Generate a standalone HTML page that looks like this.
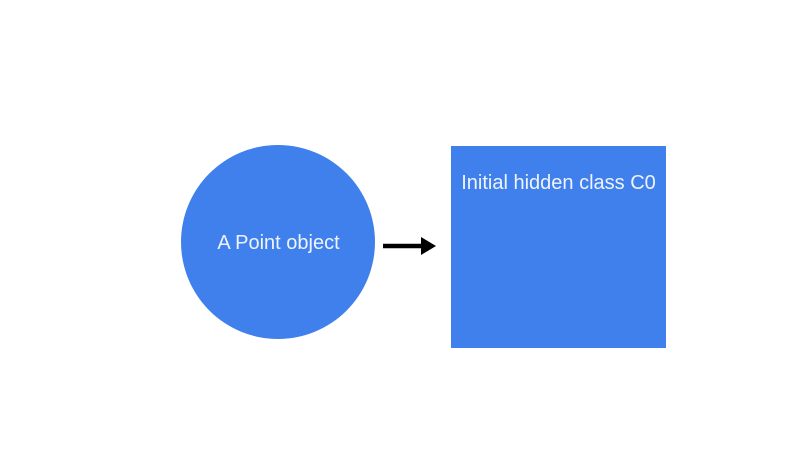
<!DOCTYPE html>
<html><head><style>
html,body{margin:0;padding:0;background:#fff;}
body{width:786px;height:458px;position:relative;overflow:hidden;font-family:"Liberation Sans",sans-serif;}
</style></head><body>
<svg width="786" height="458" style="position:absolute;left:0;top:0">
<circle cx="278" cy="242" r="97" fill="#4080ec"/>
<text x="278.5" y="249" font-size="20" fill="#eef3fc" text-anchor="middle" font-family="Liberation Sans, sans-serif">A Point object</text>
<rect x="451" y="146" width="215" height="202" fill="#4080ec"/>
<text x="558.5" y="189" font-size="20" fill="#eef3fc" text-anchor="middle" font-family="Liberation Sans, sans-serif">Initial hidden class C0</text>
<line x1="383" y1="246" x2="426" y2="246" stroke="#000" stroke-width="4.5"/>
<polygon points="421,237 436,246 421,255" fill="#000"/>
</svg>
</body></html>
